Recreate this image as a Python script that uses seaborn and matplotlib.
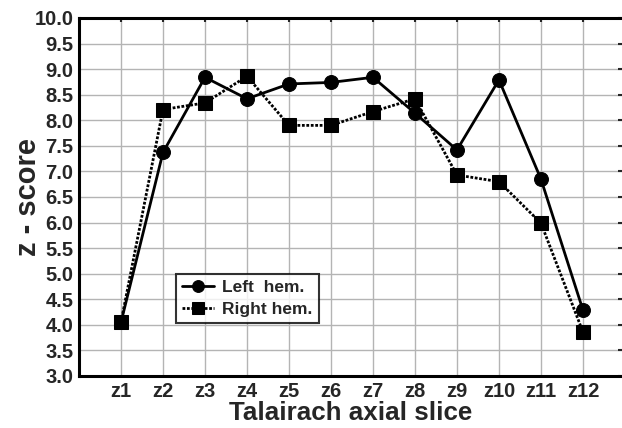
import numpy as np
import pandas as pd
import seaborn as sns
import matplotlib.pyplot as plt

# Data
slices = ["z1", "z2", "z3", "z4", "z5", "z6", "z7", "z8", "z9", "z10", "z11", "z12"]
left_hem = [4.05, 7.37, 8.84, 8.42, 8.71, 8.74, 8.84, 8.14, 7.42, 8.79, 6.85, 4.29]
right_hem = [4.05, 8.21, 8.34, 8.86, 7.90, 7.90, 8.17, 8.42, 6.93, 6.80, 5.99, 3.86]

pos = np.arange(1, len(slices) + 1)
df = pd.DataFrame({
    "pos": np.concatenate([pos, pos]),
    "z": left_hem + right_hem,
    "hem": ["Left  hem."] * len(slices) + ["Right hem."] * len(slices),
})

sns.set_style("white")
plt.rcParams["font.family"] = ["Liberation Sans", "DejaVu Sans"]
plt.rcParams["font.weight"] = "bold"

fig = plt.figure(figsize=(6.22, 4.28), dpi=100)
ax = fig.add_axes([0.127, 0.1215, 0.873, 0.8365])

sns.lineplot(data=df, x="pos", y="z", hue="hem", style="hem",
             palette=["black", "black"], markers=["o", "s"],
             dashes=[(None, None), (1, 0.6)], markersize=10,
             linewidth=2, markeredgecolor="black", ax=ax, zorder=3)

ax.set_xlim(0, 12.93)
ax.set_ylim(3.0, 10.0)
ax.set_xticks(pos)
ax.set_xticklabels(slices)
ax.set_yticks(np.arange(3.0, 10.01, 0.5))
ax.set_yticklabels([f"{v:.1f}" for v in np.arange(3.0, 10.01, 0.5)])
ax.grid(True, color="#b4b4b4", linewidth=1)
ax.set_axisbelow(True)

ax.tick_params(axis="both", labelsize=14.5, length=3, width=1.5, direction="in",
               top=True, right=True, pad=4)
for lab in ax.get_xticklabels() + ax.get_yticklabels():
    lab.set_fontweight("bold")

for side in ["left", "bottom", "top"]:
    ax.spines[side].set_linewidth(2.2)
    ax.spines[side].set_color("black")
ax.spines["right"].set_visible(False)

ax.set_xlabel("Talairach axial slice", fontsize=18.7, fontweight="bold", labelpad=0)
ax.set_ylabel("z - score", fontsize=21, fontweight="bold")
ax.yaxis.set_label_coords(-0.068, 0.5)

leg = ax.legend(title=None, loc="upper left", bbox_to_anchor=(0.179, 0.285),
                frameon=True, fancybox=False, fontsize=12.5, handlelength=1.8,
                handletextpad=0.5, borderpad=0.35, labelspacing=0.4,
                borderaxespad=0, markerscale=0.85)
leg.get_frame().set_edgecolor("black")
leg.get_frame().set_linewidth(1.5)
for t in leg.get_texts():
    t.set_fontweight("bold")

fig.savefig("out.png", dpi=100)
